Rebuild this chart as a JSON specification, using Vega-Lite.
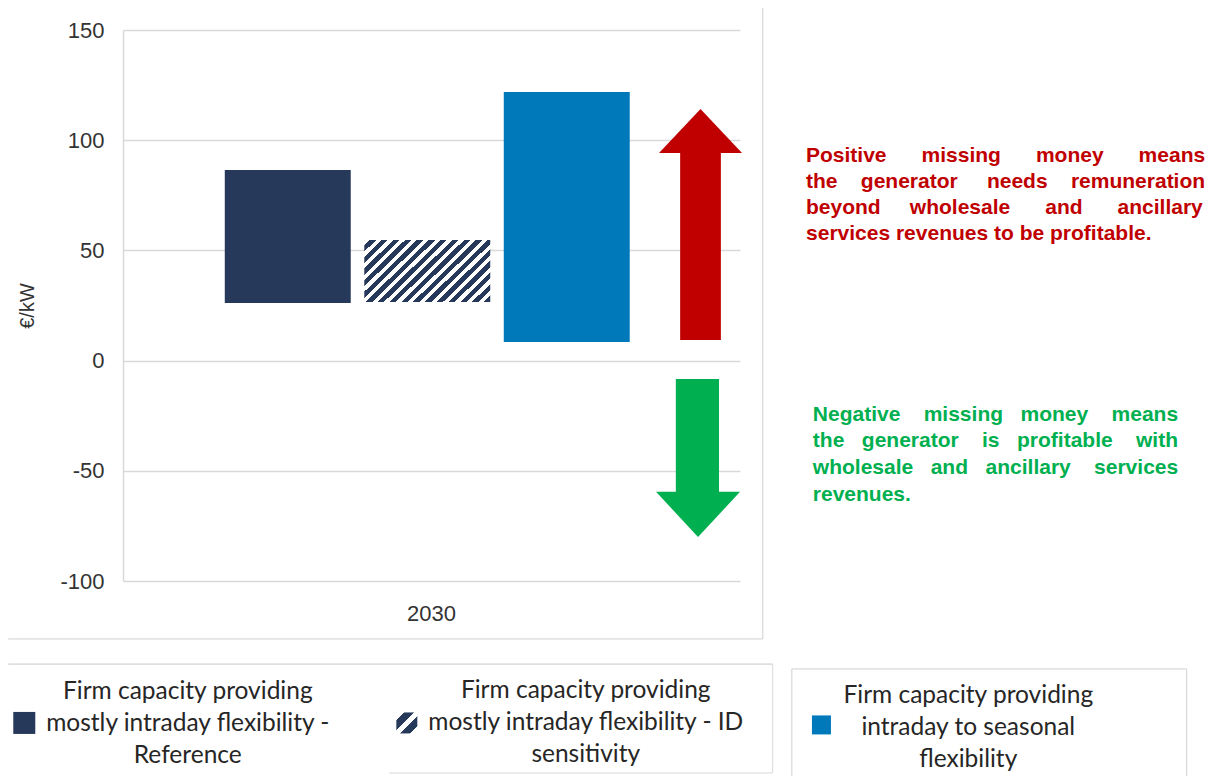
{
"$schema":"https://vega.github.io/schema/vega-lite/v6.json",
"width":617,"height":551,
"autosize":{"type":"none"},
"padding":{"left":123,"top":30,"right":478,"bottom":195},
"background":"#ffffff",
"config":{"view":{"stroke":null},"font":"Liberation Sans"},
"resolve":{"scale":{"x":"independent"}},
"layer":[
 {
  "data":{"values":[
    {"year":"2030","series":"Reference","low":26.1,"high":86.5},
    {"year":"2030","series":"ID sensitivity","low":26.6,"high":54.7},
    {"year":"2030","series":"Intraday to seasonal","low":8.4,"high":121.9}
  ]},
  "encoding":{
    "x":{"field":"year","type":"nominal","scale":{"paddingInner":0,"paddingOuter":0},"axis":{"title":null,"labelAngle":0,"ticks":false,"domain":false,"grid":false,"labelFontSize":22,"labelColor":"#333333","labelPadding":22,"labelFont":"Liberation Sans"}},
    "xOffset":{"field":"series","type":"nominal","scale":{"domain":["Reference","ID sensitivity","Intraday to seasonal"],"paddingInner":0.097,"paddingOuter":0.76,"align":0.48}},
    "y":{"field":"low","type":"quantitative","scale":{"domain":[-100,150],"nice":false,"zero":false},"axis":{"values":[-100,-50,0,50,100,150],"labelExpr":"toString(datum.value)","grid":true,"gridColor":"#d9d9d9","gridWidth":1.5,"domain":true,"domainColor":"#d9d9d9","domainWidth":1.5,"ticks":false,"labelFont":"Liberation Sans","labelFontSize":22,"labelColor":"#333333","labelPadding":19,"title":"€/kW","titleFont":"Liberation Sans","titleFontSize":20,"titleFontWeight":"normal","titleColor":"#333333","titlePadding":22}},
    "y2":{"field":"high"}
  },
  "layer":[
    {"transform":[{"filter":"datum.series !== 'ID sensitivity'"}],"mark":{"type":"bar"},"encoding":{"color":{"field":"series","type":"nominal","scale":{"domain":["Reference","ID sensitivity","Intraday to seasonal"],"range":["#26395A","#26395A","#0079BB"]},"legend":null}}},
    {"transform":[{"filter":"datum.series === 'ID sensitivity'"}],"mark":{"type":"bar","stroke":null,"fill":{"gradient":"linear","x1":0,"y1":0,"x2":1.2,"y2":0.6,"stops":[
      {"offset":0,"color":"#ffffff"},{"offset":0.028,"color":"#ffffff"},{"offset":0.028,"color":"#26395A"},{"offset":0.0625,"color":"#26395A"},
      {"offset":0.0625,"color":"#ffffff"},{"offset":0.0905,"color":"#ffffff"},{"offset":0.0905,"color":"#26395A"},{"offset":0.125,"color":"#26395A"},
      {"offset":0.125,"color":"#ffffff"},{"offset":0.153,"color":"#ffffff"},{"offset":0.153,"color":"#26395A"},{"offset":0.1875,"color":"#26395A"},
      {"offset":0.1875,"color":"#ffffff"},{"offset":0.2155,"color":"#ffffff"},{"offset":0.2155,"color":"#26395A"},{"offset":0.25,"color":"#26395A"},
      {"offset":0.25,"color":"#ffffff"},{"offset":0.278,"color":"#ffffff"},{"offset":0.278,"color":"#26395A"},{"offset":0.3125,"color":"#26395A"},
      {"offset":0.3125,"color":"#ffffff"},{"offset":0.3405,"color":"#ffffff"},{"offset":0.3405,"color":"#26395A"},{"offset":0.375,"color":"#26395A"},
      {"offset":0.375,"color":"#ffffff"},{"offset":0.403,"color":"#ffffff"},{"offset":0.403,"color":"#26395A"},{"offset":0.4375,"color":"#26395A"},
      {"offset":0.4375,"color":"#ffffff"},{"offset":0.4655,"color":"#ffffff"},{"offset":0.4655,"color":"#26395A"},{"offset":0.5,"color":"#26395A"},
      {"offset":0.5,"color":"#ffffff"},{"offset":0.528,"color":"#ffffff"},{"offset":0.528,"color":"#26395A"},{"offset":0.5625,"color":"#26395A"},
      {"offset":0.5625,"color":"#ffffff"},{"offset":0.5905,"color":"#ffffff"},{"offset":0.5905,"color":"#26395A"},{"offset":0.625,"color":"#26395A"},
      {"offset":0.625,"color":"#ffffff"},{"offset":0.653,"color":"#ffffff"},{"offset":0.653,"color":"#26395A"},{"offset":0.6875,"color":"#26395A"},
      {"offset":0.6875,"color":"#ffffff"},{"offset":0.7155,"color":"#ffffff"},{"offset":0.7155,"color":"#26395A"},{"offset":0.75,"color":"#26395A"},
      {"offset":0.75,"color":"#ffffff"},{"offset":0.778,"color":"#ffffff"},{"offset":0.778,"color":"#26395A"},{"offset":0.8125,"color":"#26395A"},
      {"offset":0.8125,"color":"#ffffff"},{"offset":0.8405,"color":"#ffffff"},{"offset":0.8405,"color":"#26395A"},{"offset":0.875,"color":"#26395A"},
      {"offset":0.875,"color":"#ffffff"},{"offset":0.903,"color":"#ffffff"},{"offset":0.903,"color":"#26395A"},{"offset":0.9375,"color":"#26395A"},
      {"offset":0.9375,"color":"#ffffff"},{"offset":0.9655,"color":"#ffffff"},{"offset":0.9655,"color":"#26395A"},{"offset":1,"color":"#26395A"}
    ]}}}
  ]
 },
 {
  "data":{"values":[{}]},
  "layer":[
    {"mark":{"type":"rect","color":"#C00000"},"encoding":{"x":{"datum":90.3,"type":"quantitative","scale":{"domain":[0,100]},"axis":null},"x2":{"datum":96.9},"y":{"datum":9.3,"type":"quantitative","scale":{"domain":[-100,150],"nice":false,"zero":false}},"y2":{"datum":94.6}}},
    {"mark":{"type":"point","filled":true,"opacity":1,"color":"#C00000","shape":"M-1,0.53L0,-0.53L1,0.53Z","size":6889,"strokeWidth":0},"encoding":{"x":{"datum":93.6,"type":"quantitative","scale":{"domain":[0,100]},"axis":null},"y":{"datum":104.2,"type":"quantitative","scale":{"domain":[-100,150],"nice":false,"zero":false}}}},
    {"mark":{"type":"rect","color":"#00B050"},"encoding":{"x":{"datum":89.6,"type":"quantitative","scale":{"domain":[0,100]},"axis":null},"x2":{"datum":96.6},"y":{"datum":-8.3,"type":"quantitative","scale":{"domain":[-100,150],"nice":false,"zero":false}},"y2":{"datum":-59.8}}},
    {"mark":{"type":"point","filled":true,"opacity":1,"color":"#00B050","shape":"M-1,-0.54L0,0.54L1,-0.54Z","size":7056,"strokeWidth":0},"encoding":{"x":{"datum":93.2,"type":"quantitative","scale":{"domain":[0,100]},"axis":null},"y":{"datum":-69.8,"type":"quantitative","scale":{"domain":[-100,150],"nice":false,"zero":false}}}},
    {"mark":{"type":"text","align":"left","baseline":"alphabetic","font":"Liberation Sans","fontWeight":"bold","fontSize":21,"lineHeight":26,"color":"#C00000","text":["Positive\u00a0\u00a0\u00a0\u00a0\u00a0\u00a0missing\u00a0\u00a0\u00a0\u00a0\u00a0\u00a0money\u00a0\u00a0\u00a0\u00a0\u00a0\u00a0means","the\u00a0\u00a0\u00a0\u00a0generator\u00a0\u00a0\u00a0\u00a0\u00a0needs\u00a0\u00a0\u00a0\u00a0remuneration","beyond\u00a0\u00a0\u00a0\u00a0\u00a0wholesale\u00a0\u00a0\u00a0\u00a0\u00a0\u00a0and\u00a0\u00a0\u00a0\u00a0\u00a0\u00a0ancillary","services revenues to be profitable."]},"encoding":{"x":{"datum":110.7,"type":"quantitative","scale":{"domain":[0,100]},"axis":null},"y":{"datum":90.1,"type":"quantitative","scale":{"domain":[-100,150],"nice":false,"zero":false}}}},
    {"mark":{"type":"text","align":"left","baseline":"alphabetic","font":"Liberation Sans","fontWeight":"bold","fontSize":21,"lineHeight":26.7,"color":"#00B050","text":["Negative\u00a0\u00a0\u00a0\u00a0missing\u00a0\u00a0\u00a0money\u00a0\u00a0\u00a0\u00a0means","the\u00a0\u00a0\u00a0generator\u00a0\u00a0\u00a0\u00a0is\u00a0\u00a0\u00a0profitable\u00a0\u00a0\u00a0\u00a0with","wholesale\u00a0\u00a0\u00a0and\u00a0\u00a0\u00a0ancillary\u00a0\u00a0\u00a0\u00a0services","revenues."]},"encoding":{"x":{"datum":111.8,"type":"quantitative","scale":{"domain":[0,100]},"axis":null},"y":{"datum":-27.3,"type":"quantitative","scale":{"domain":[-100,150],"nice":false,"zero":false}}}},
    {"mark":{"type":"rule","color":"#d0d0d0","strokeWidth":1},"encoding":{"x":{"datum":-18.6,"type":"quantitative","scale":{"domain":[0,100]},"axis":null},"x2":{"datum":103.7},"y":{"datum":-126.3,"type":"quantitative","scale":{"domain":[-100,150],"nice":false,"zero":false}}}},
    {"mark":{"type":"rule","color":"#d0d0d0","strokeWidth":1},"encoding":{"x":{"datum":103.7,"type":"quantitative","scale":{"domain":[0,100]},"axis":null},"y":{"datum":-126.3,"type":"quantitative","scale":{"domain":[-100,150],"nice":false,"zero":false}},"y2":{"datum":160}}},
    {"mark":{"type":"rule","color":"#c8c8c8","strokeWidth":1},"encoding":{"x":{"datum":-18.6,"type":"quantitative","scale":{"domain":[0,100]},"axis":null},"x2":{"datum":105.3},"y":{"datum":-137.7,"type":"quantitative","scale":{"domain":[-100,150],"nice":false,"zero":false}}}},
    {"mark":{"type":"rule","color":"#d8d8d8","strokeWidth":1},"encoding":{"x":{"datum":105.3,"type":"quantitative","scale":{"domain":[0,100]},"axis":null},"y":{"datum":-137.7,"type":"quantitative","scale":{"domain":[-100,150],"nice":false,"zero":false}},"y2":{"datum":-187.1}}},
    {"mark":{"type":"rule","color":"#d8d8d8","strokeWidth":1},"encoding":{"x":{"datum":43.1,"type":"quantitative","scale":{"domain":[0,100]},"axis":null},"x2":{"datum":105.3},"y":{"datum":-187.1,"type":"quantitative","scale":{"domain":[-100,150],"nice":false,"zero":false}}}},
    {"mark":{"type":"rect","fill":null,"stroke":"#d0d0d0","strokeWidth":1},"encoding":{"x":{"datum":108.4,"type":"quantitative","scale":{"domain":[0,100]},"axis":null},"x2":{"datum":172.4},"y":{"datum":-139.9,"type":"quantitative","scale":{"domain":[-100,150],"nice":false,"zero":false}},"y2":{"datum":-190}}},
    {"mark":{"type":"point","shape":"square","filled":true,"opacity":1,"color":"#26395A","size":484,"strokeWidth":0},"encoding":{"x":{"datum":-16.0,"type":"quantitative","scale":{"domain":[0,100]},"axis":null},"y":{"datum":-164.4,"type":"quantitative","scale":{"domain":[-100,150],"nice":false,"zero":false}}}},
    {"mark":{"type":"point","shape":"square","filled":true,"opacity":1,"size":441,"strokeWidth":0,"fill":{"gradient":"linear","x1":0,"y1":0,"x2":1,"y2":1,"stops":[{"offset":0,"color":"#ffffff"},{"offset":0.18,"color":"#ffffff"},{"offset":0.18,"color":"#26395A"},{"offset":0.42,"color":"#26395A"},{"offset":0.42,"color":"#ffffff"},{"offset":0.58,"color":"#ffffff"},{"offset":0.58,"color":"#26395A"},{"offset":0.82,"color":"#26395A"},{"offset":0.82,"color":"#ffffff"},{"offset":1,"color":"#ffffff"}]}},"encoding":{"x":{"datum":46.0,"type":"quantitative","scale":{"domain":[0,100]},"axis":null},"y":{"datum":-164.4,"type":"quantitative","scale":{"domain":[-100,150],"nice":false,"zero":false}}}},
    {"mark":{"type":"point","shape":"square","filled":true,"opacity":1,"color":"#0079BB","size":361,"strokeWidth":0},"encoding":{"x":{"datum":113.2,"type":"quantitative","scale":{"domain":[0,100]},"axis":null},"y":{"datum":-165.3,"type":"quantitative","scale":{"domain":[-100,150],"nice":false,"zero":false}}}},
    {"mark":{"type":"text","align":"center","baseline":"alphabetic","font":"Lato","fontSize":24.5,"lineHeight":32,"color":"#262626","text":["Firm capacity providing","mostly intraday flexibility -","Reference"]},"encoding":{"x":{"datum":10.5,"type":"quantitative","scale":{"domain":[0,100]},"axis":null},"y":{"datum":-153.5,"type":"quantitative","scale":{"domain":[-100,150],"nice":false,"zero":false}}}},
    {"mark":{"type":"text","align":"center","baseline":"alphabetic","font":"Lato","fontSize":24.5,"lineHeight":32,"color":"#262626","text":["Firm capacity providing","mostly intraday flexibility - ID","sensitivity"]},"encoding":{"x":{"datum":75.0,"type":"quantitative","scale":{"domain":[0,100]},"axis":null},"y":{"datum":-153.1,"type":"quantitative","scale":{"domain":[-100,150],"nice":false,"zero":false}}}},
    {"mark":{"type":"text","align":"center","baseline":"alphabetic","font":"Lato","fontSize":24.5,"lineHeight":32,"color":"#262626","text":["Firm capacity providing","intraday to seasonal","flexibility"]},"encoding":{"x":{"datum":137.0,"type":"quantitative","scale":{"domain":[0,100]},"axis":null},"y":{"datum":-155.4,"type":"quantitative","scale":{"domain":[-100,150],"nice":false,"zero":false}}}}
  ]
 }
]
}
